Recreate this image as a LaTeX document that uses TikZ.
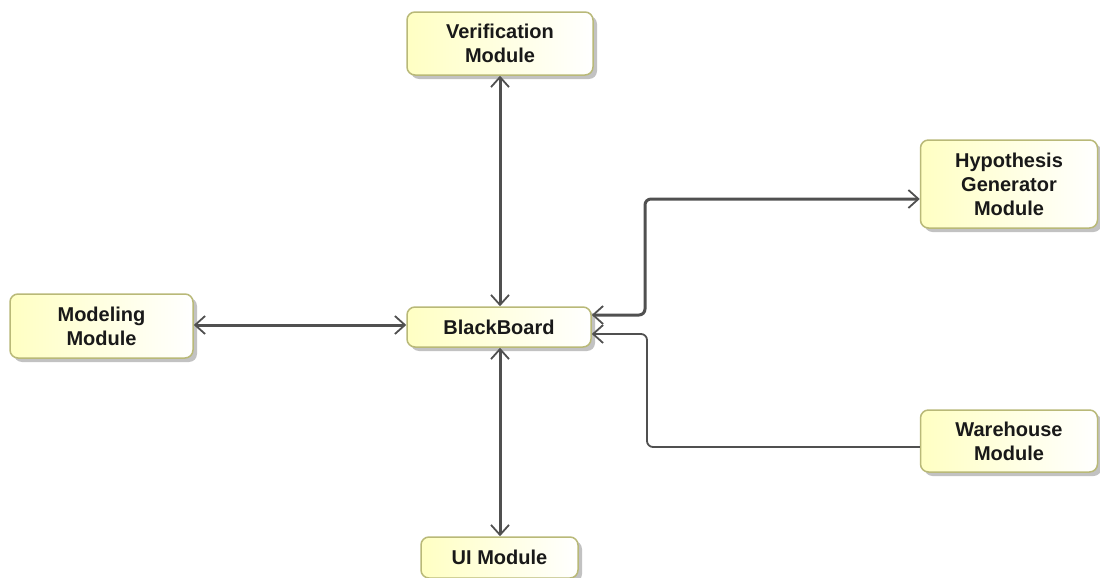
\documentclass[tikz,border=0pt]{standalone}
\usepackage{fontspec}
\setmainfont{Liberation Sans}
\usetikzlibrary{arrows.meta,shadows}
\definecolor{boxborder}{RGB}{185,185,120}
\definecolor{boxfill}{RGB}{255,255,195}
\definecolor{linecol}{RGB}{80,80,80}
\definecolor{txtcol}{RGB}{25,25,25}
\begin{document}
\begin{tikzpicture}[x=0.5pt,y=-0.5pt,
  modbox/.style={draw=boxborder, line width=0.75pt, rounded corners=4pt,
    left color=boxfill, right color=white, shading angle=90,
    drop shadow={shadow xshift=2pt, shadow yshift=-2pt, fill=black!40, opacity=0.6},
    align=center, inner sep=1pt, text=txtcol,
    font=\fontsize{10}{12}\selectfont\bfseries},
  conn/.style={draw=linecol, line width=1.5pt, rounded corners=3pt},
  thinconn/.style={draw=linecol, line width=0.9pt, rounded corners=3pt},
  tip/.tip={Straight Barb[length=5pt,width=9pt,line width=0.9pt]}
]
\useasboundingbox (0,0) rectangle (1100,578);
\node[modbox, minimum width=93pt, minimum height=31.5pt] (ver) at (500,43.5) {Verification\\Module};
\node[modbox, minimum width=92pt, minimum height=20pt] (bb) at (499,327) {BlackBoard};
\node[modbox, minimum width=91.5pt, minimum height=32pt] (mod) at (101.5,326) {Modeling\\Module};
\node[modbox, minimum width=78.5pt, minimum height=20.5pt] (ui) at (499.5,557.5) {UI Module};
\node[modbox, minimum width=88.5pt, minimum height=44pt] (hyp) at (1009,184) {Hypothesis\\Generator\\Module};
\node[modbox, minimum width=88.5pt, minimum height=31pt] (wh) at (1009,441) {Warehouse\\Module};

\draw[conn, tip-tip] (ver.south -| 500,0) -- (bb.north -| 500,0);
\draw[conn, tip-tip] (mod.east |- 0,325) -- (bb.west |- 0,325);
\draw[conn, tip-tip] (bb.south -| 500,0) -- (ui.north -| 500,0);
\draw[conn, tip-tip] (bb.east |- 0,315) -- (645,315) -- (645,199) -- (hyp.west |- 0,199);
\draw[thinconn, -tip] (wh.west |- 0,447) -- (647,447) -- (647,334) -- (bb.east |- 0,334);
\end{tikzpicture}
\end{document}
